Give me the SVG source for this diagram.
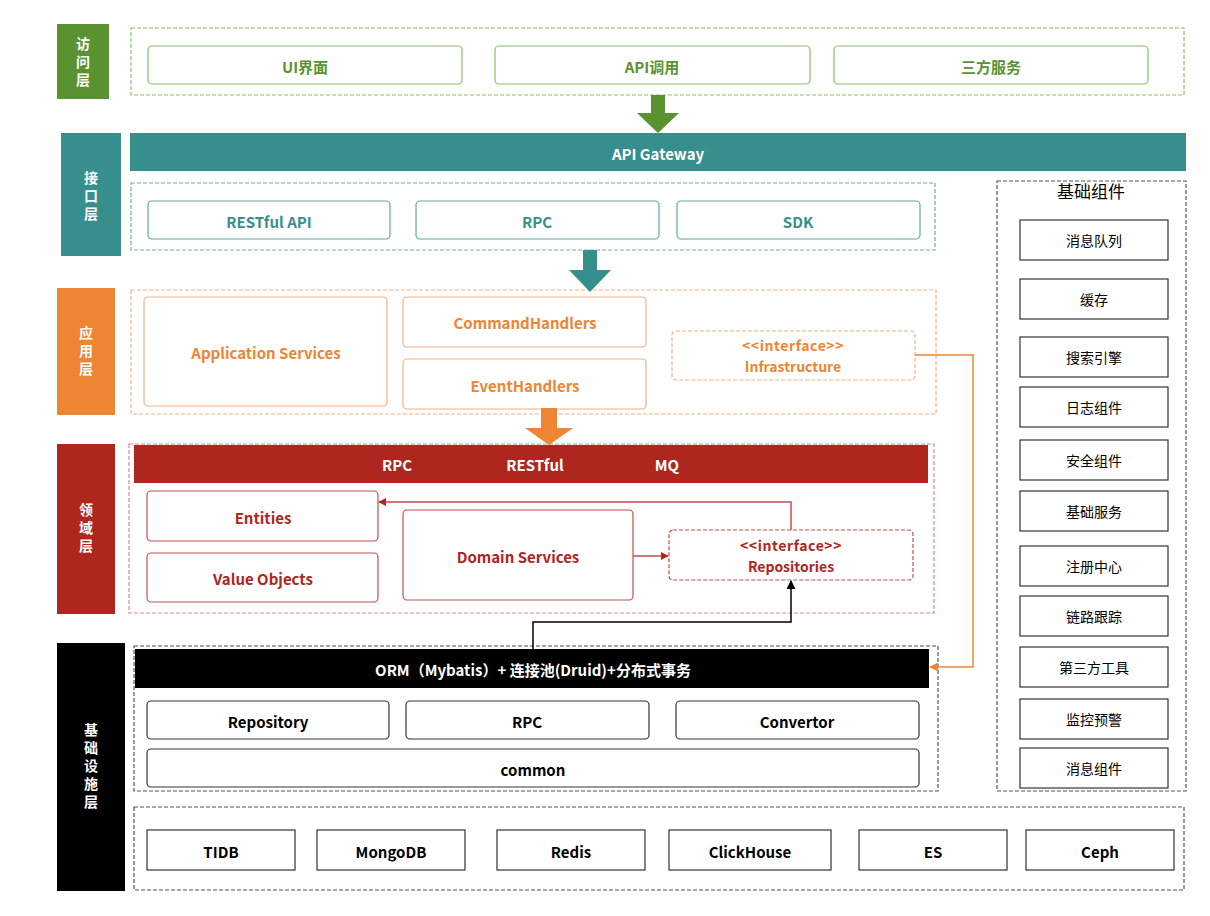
<svg xmlns="http://www.w3.org/2000/svg" width="1210" height="916" viewBox="0 0 1210 916">
<defs>
<style>
text{font-family:"Noto Sans CJK SC","Noto Sans",sans-serif;text-anchor:middle;dominant-baseline:central}
.b{font-weight:bold;font-size:15px}
.bi{font-weight:bold;font-size:14px}
.lbl{font-weight:bold;font-size:14px;fill:#fff;writing-mode:vertical-rl;letter-spacing:4px}
.n{font-size:14px;fill:#000}
.box{fill:#fff;stroke-width:1.2}
.dash{fill:none;stroke-dasharray:4 2;stroke-width:1.2}
.g{stroke:#8cbb6a}.gt{fill:#5a9231}
.t{stroke:#5fa7a5}.tt{fill:#368f8d}
.o{stroke:#f4b183}.ot{fill:#ee8533}
.r{stroke:#c0504d}.rt{fill:#ae261e}
.k{stroke:#333}.kt{fill:#000}
.wt{fill:#fff}
</style>
<marker id="ar" viewBox="0 0 10 10" refX="9" refY="5" markerWidth="8" markerHeight="8" orient="auto-start-reverse" markerUnits="userSpaceOnUse"><path d="M0,0L10,5L0,10z" fill="#ae261e"/></marker>
<marker id="ak" viewBox="0 0 10 10" refX="9" refY="5" markerWidth="9" markerHeight="9" orient="auto" markerUnits="userSpaceOnUse"><path d="M0,0L10,5L0,10z" fill="#000"/></marker>
<marker id="ao" viewBox="0 0 10 10" refX="9" refY="5" markerWidth="9" markerHeight="9" orient="auto" markerUnits="userSpaceOnUse"><path d="M0,0L10,5L0,10z" fill="#ee8533"/></marker>
</defs>
<rect width="1210" height="916" fill="#fff"/>

<!-- Access layer -->
<g id="layer-access">
<rect x="57" y="24" width="52" height="75" fill="#5a9231"/>
<text class="lbl" x="83" y="64">访问层</text>
<rect class="dash" x="131" y="28" width="1053" height="67" stroke="#8cbb6a"/>
</g>
<g id="ui"><rect class="box g" x="148" y="46" width="314" height="38" rx="4"/><text class="b gt" x="305" y="66">UI界面</text></g>
<g id="apicall"><rect class="box g" x="495" y="46" width="315" height="38" rx="4"/><text class="b gt" x="652" y="66">API调用</text></g>
<g id="thirdsvc"><rect class="box g" x="834" y="46" width="314" height="38" rx="4"/><text class="b gt" x="991" y="66">三方服务</text></g>

<!-- Interface layer -->
<g id="layer-interface">
<rect x="61" y="133" width="60" height="123" fill="#368f8d"/>
<text class="lbl" x="91" y="198">接口层</text>
<rect class="dash" x="131" y="183" width="804" height="67" stroke="#6fb0ae"/>
</g>
<g id="gateway"><rect x="130" y="133" width="1056" height="38" fill="#368f8d"/><text class="b wt" x="658" y="153">API Gateway</text></g>
<g id="restapi"><rect class="box t" x="148" y="201" width="242" height="38" rx="4"/><text class="b tt" x="269" y="221">RESTful API</text></g>
<g id="rpc1"><rect class="box t" x="416" y="201" width="243" height="38" rx="4"/><text class="b tt" x="537" y="221">RPC</text></g>
<g id="sdk"><rect class="box t" x="677" y="201" width="243" height="38" rx="4"/><text class="b tt" x="798" y="221">SDK</text></g>

<!-- Application layer -->
<g id="layer-app">
<rect x="57" y="288" width="58" height="127" fill="#ee8533"/>
<text class="lbl" x="86" y="353">应用层</text>
<rect class="dash" x="131" y="290" width="805" height="124" stroke="#f4b183"/>
</g>
<g id="appsvc"><rect class="box o" x="144" y="297" width="243" height="109" rx="4"/><text class="b ot" x="266" y="352">Application Services</text></g>
<g id="cmdh"><rect class="box o" x="403" y="297" width="243" height="50" rx="4"/><text class="b ot" x="525" y="322">CommandHandlers</text></g>
<g id="evth"><rect class="box o" x="403" y="359" width="243" height="50" rx="4"/><text class="b ot" x="525" y="385">EventHandlers</text></g>
<g id="infra-if"><rect class="box o" x="672" y="331" width="243" height="49" rx="4" stroke-dasharray="4 2"/><text class="bi ot" x="793" y="345" letter-spacing="0.6">&lt;&lt;interface&gt;&gt;</text><text class="bi ot" x="793" y="366">Infrastructure</text></g>

<!-- Domain layer -->
<g id="layer-domain">
<rect x="57" y="444" width="58" height="170" fill="#ae261e"/>
<text class="lbl" x="86" y="530">领域层</text>
<rect class="dash" x="129" y="444" width="805" height="169" stroke="#d88a87"/>
</g>
<g id="domainbar"><rect x="134" y="445" width="794" height="38" fill="#ae261e"/><text class="b wt" x="397" y="464">RPC</text><text class="b wt" x="535" y="464">RESTful</text><text class="b wt" x="667" y="464">MQ</text></g>
<g id="entities"><rect class="box r" x="147" y="491" width="231" height="50" rx="4"/><text class="b rt" x="263" y="517">Entities</text></g>
<g id="valobj"><rect class="box r" x="147" y="553" width="231" height="49" rx="4"/><text class="b rt" x="263" y="578">Value Objects</text></g>
<g id="domsvc"><rect class="box r" x="403" y="510" width="230" height="90" rx="4"/><text class="b rt" x="518" y="556">Domain Services</text></g>
<g id="repo-if"><rect class="box r" x="669" y="530" width="244" height="50" rx="4" stroke-dasharray="4 2" stroke="#d06a66"/><text class="bi rt" x="791" y="545" letter-spacing="0.6">&lt;&lt;interface&gt;&gt;</text><text class="bi rt" x="791" y="566">Repositories</text></g>

<!-- Infrastructure layer -->
<g id="layer-infra">
<rect x="57" y="643" width="68" height="248" fill="#000"/>
<text class="lbl" x="91" y="768">基础设施层</text>
<rect class="dash" x="134" y="646" width="804" height="145" stroke="#555"/>
<rect class="dash" x="134" y="807" width="1050" height="83" stroke="#555"/>
</g>
<g id="orm"><rect x="135" y="649" width="794" height="39" fill="#000"/><text class="b wt" x="533" y="669">ORM（Mybatis）+ 连接池(Druid)+分布式事务</text></g>
<g id="repository"><rect class="box k" x="147" y="701" width="242" height="38" rx="4"/><text class="b kt" x="268" y="721">Repository</text></g>
<g id="rpc2"><rect class="box k" x="406" y="701" width="243" height="38" rx="4"/><text class="b kt" x="527" y="721">RPC</text></g>
<g id="convertor"><rect class="box k" x="676" y="701" width="243" height="38" rx="4"/><text class="b kt" x="797" y="721">Convertor</text></g>
<g id="common"><rect class="box k" x="147" y="749" width="772" height="38" rx="4"/><text class="b kt" x="533" y="769">common</text></g>
<g id="tidb"><rect class="box k" x="147" y="830" width="148" height="40"/><text class="b kt" x="221" y="851">TIDB</text></g>
<g id="mongodb"><rect class="box k" x="317" y="830" width="148" height="40"/><text class="b kt" x="391" y="851">MongoDB</text></g>
<g id="redis"><rect class="box k" x="497" y="830" width="148" height="40"/><text class="b kt" x="571" y="851">Redis</text></g>
<g id="clickhouse"><rect class="box k" x="669" y="830" width="162" height="40"/><text class="b kt" x="750" y="851">ClickHouse</text></g>
<g id="es"><rect class="box k" x="859" y="830" width="148" height="40"/><text class="b kt" x="933" y="851">ES</text></g>
<g id="ceph"><rect class="box k" x="1026" y="830" width="148" height="40"/><text class="b kt" x="1100" y="851">Ceph</text></g>

<!-- Basic components panel -->
<g id="basic">
<rect class="dash" x="997" y="181" width="189" height="610" stroke="#555"/>
<text x="1091" y="190" font-size="17" fill="#000">基础组件</text>
</g>
<g id="c1"><rect class="box k" x="1020" y="220" width="148" height="40"/><text class="n" x="1094" y="240">消息队列</text></g>
<g id="c2"><rect class="box k" x="1020" y="279" width="148" height="40"/><text class="n" x="1094" y="299">缓存</text></g>
<g id="c3"><rect class="box k" x="1020" y="337" width="148" height="40"/><text class="n" x="1094" y="357">搜索引擎</text></g>
<g id="c4"><rect class="box k" x="1020" y="387" width="148" height="40"/><text class="n" x="1094" y="407">日志组件</text></g>
<g id="c5"><rect class="box k" x="1020" y="440" width="148" height="40"/><text class="n" x="1094" y="460">安全组件</text></g>
<g id="c6"><rect class="box k" x="1020" y="491" width="148" height="40"/><text class="n" x="1094" y="511">基础服务</text></g>
<g id="c7"><rect class="box k" x="1020" y="546" width="148" height="40"/><text class="n" x="1094" y="566">注册中心</text></g>
<g id="c8"><rect class="box k" x="1020" y="596" width="148" height="40"/><text class="n" x="1094" y="616">链路跟踪</text></g>
<g id="c9"><rect class="box k" x="1020" y="647" width="148" height="40"/><text class="n" x="1094" y="667">第三方工具</text></g>
<g id="c10"><rect class="box k" x="1020" y="699" width="148" height="40"/><text class="n" x="1094" y="719">监控预警</text></g>
<g id="c11"><rect class="box k" x="1020" y="748" width="148" height="40"/><text class="n" x="1094" y="768">消息组件</text></g>

<!-- Connectors -->
<g id="connectors">
<path d="M651,95H665V113H679L658,133L637,113H651Z" fill="#5a9231"/>
<path d="M583,250H597V270H611L590,292L569,270H583Z" fill="#368f8d"/>
<path d="M541,408H557V428H573L549,445L525,428H541Z" fill="#ee8533"/>
<polyline points="791,530 791,502 379,502" fill="none" stroke="#c0504d" stroke-width="1.5" marker-end="url(#ar)"/>
<line x1="633" y1="556" x2="668" y2="556" stroke="#c0504d" stroke-width="1.5" marker-end="url(#ar)"/>
<polyline points="533,649 533,622 791,622 791,581" fill="none" stroke="#000" stroke-width="1.5" marker-end="url(#ak)"/>
<polyline points="915,355 973,355 973,667 930,667" fill="none" stroke="#ee8533" stroke-width="1.5" marker-end="url(#ao)"/>
</g>
</svg>
